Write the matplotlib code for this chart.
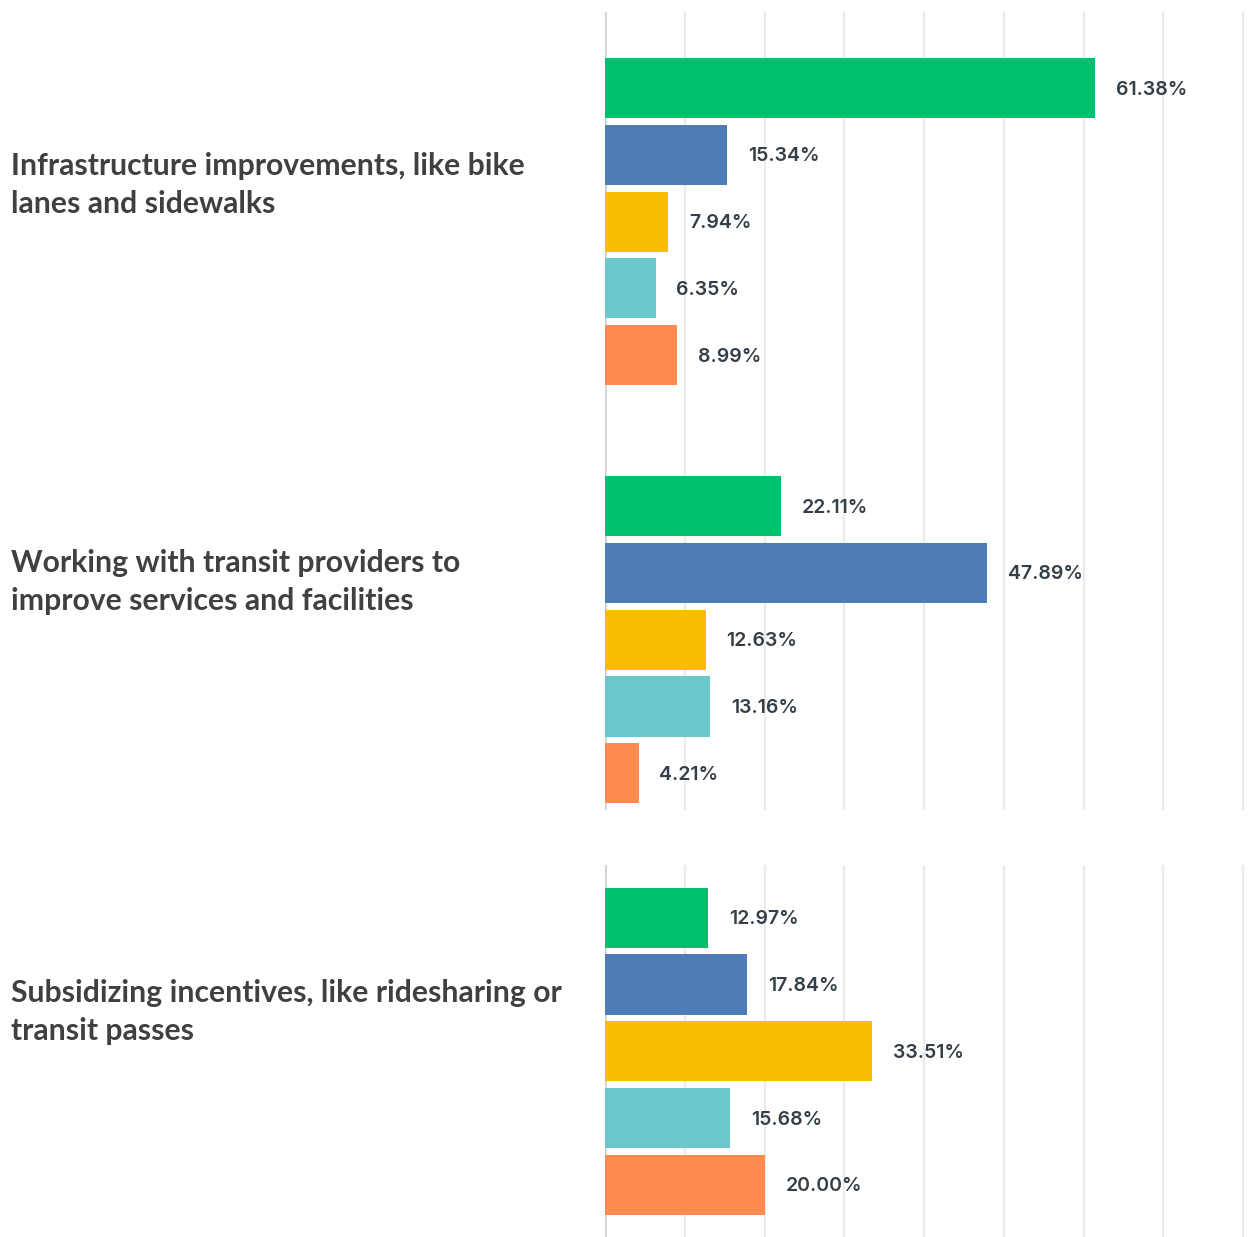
import matplotlib.pyplot as plt

# survey answers, one group of five bars per question
questions = [
    "Infrastructure improvements, like bike\nlanes and sidewalks",
    "Working with transit providers to\nimprove services and facilities",
    "Subsidizing incentives, like ridesharing or\ntransit passes",
]
infrastructure = [61.38, 15.34, 7.94, 6.35, 8.99]
transit = [22.11, 47.89, 12.63, 13.16, 4.21]
subsidies = [12.97, 17.84, 33.51, 15.68, 20.00]
colors = ["#00bf6f", "#507cb6", "#f9be00", "#6bc8cd", "#ff8b4f"]

W, H = 1248, 1237
fig = plt.figure(figsize=(W / 100, H / 100), dpi=100)

# pixel boxes (top, bottom) for each panel, plus y-limits in bar units
boxes = [(12, 440), (440, 810), (865, 1237)]
ylims = [(5.27, -1.14), (4.55, -0.99), (4.78, -0.79)]
title_y = [185, 582, 1012]
left, right = 605, 1248

for vals, q, (top, bot), yl, ty in zip([infrastructure, transit, subsidies],
                                       questions, boxes, ylims, title_y):
    ax = fig.add_axes([left / W, 1 - bot / H, (right - left) / W, (bot - top) / H])
    pos = list(range(len(vals)))
    ax.barh(pos, vals, height=0.9, color=colors, zorder=3)
    for p, v in zip(pos, vals):
        ax.annotate(f"{v:.2f}%", (v, p), xytext=(15, -1), textcoords="offset points",
                    va="center", ha="left", fontsize=14, family="Inter",
                    weight="semibold", color="#333e48")
    ax.set_xlim(0, 80.6)
    ax.set_ylim(*yl)
    ax.set_xticks(range(0, 81, 10))
    ax.grid(axis="x", color="#ebebeb", linewidth=1.6, zorder=0)
    ax.axvline(0, color="#d0d0d0", linewidth=1.8, zorder=2)
    ax.tick_params(left=False, bottom=False, labelleft=False, labelbottom=False)
    for s in ax.spines.values():
        s.set_visible(False)

    fig.text(11 / W, 1 - ty / H, q, ha="left", va="center", fontsize=21.7,
             family="Lato", weight="bold", color="#404040", linespacing=1.4)

fig.savefig("out.png", dpi=100)
